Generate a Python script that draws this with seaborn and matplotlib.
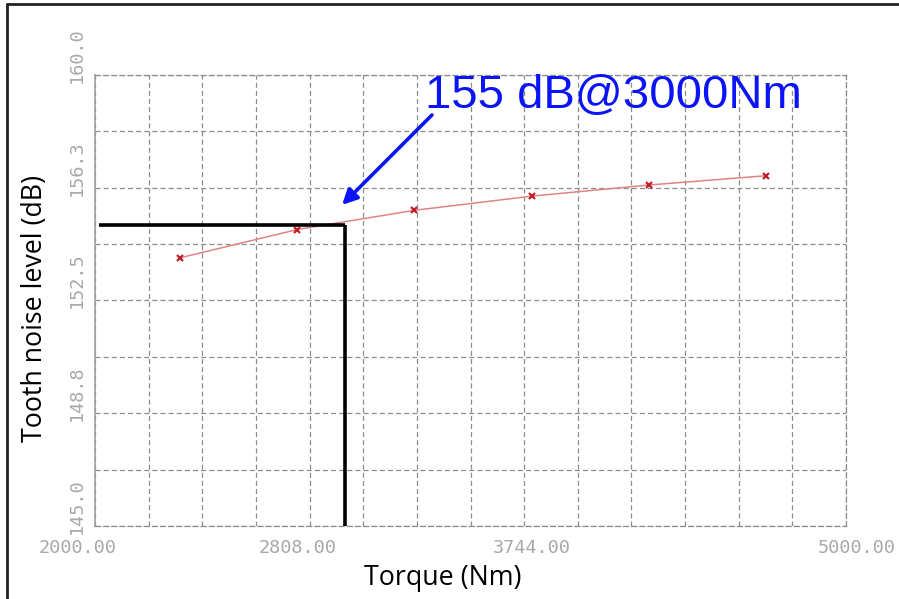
import numpy as np
import pandas as pd
import seaborn as sns
import matplotlib
matplotlib.use("Agg")
import matplotlib.pyplot as plt
from matplotlib.lines import Line2D
from matplotlib.transforms import ScaledTranslation, blended_transform_factory

# Measured tooth noise level versus input torque
torque_nm = [2340, 2808, 3276, 3744, 4212, 4680]
noise_db = [153.92, 154.86, 155.50, 155.97, 156.34, 156.65]

# Operating point highlighted on the chart
op_torque = 3000
op_level = 155
op_label = "155 dB@3000Nm"

# Axis labelling
x_tick_values = [2000, 2808, 3744, 5000]
x_tick_labels = ["2000.00", "2808.00", "3744.00", "5000.00"]
x_tick_marks = [2000, 2340, 2808, 3276, 3744, 4212, 4680, 5000]
y_tick_values = [145.0, 148.75, 152.5, 156.25, 160.0]
y_tick_labels = ["145.0", "148.8", "152.5", "156.3", "160.0"]
x_label = "Torque (Nm)"
y_label = "Tooth noise level (dB)"

sns.set_style("white")
plt.rcParams["font.family"] = ["Open Sans", "DejaVu Sans"]

fig = plt.figure(figsize=(8.99, 5.99), dpi=100)
ax = fig.add_axes([95 / 899, 1 - 526 / 599, 751 / 899, 451 / 599])

df = pd.DataFrame({"torque": torque_nm, "level": noise_db})
sns.lineplot(data=df, x="torque", y="level", ax=ax, color="#e08585", lw=1.1,
             marker="x", markersize=5, markeredgewidth=1.6,
             markeredgecolor="#c4202c", zorder=4)

ax.set_xlim(2000, 5000)
ax.set_ylim(145, 160)

# Dashed reference grid on its own (minor) divisions
grid_color = "#8c8c8c"
ax.xaxis.remove_overlapping_locs = False
ax.yaxis.remove_overlapping_locs = False
ax.set_xticks(np.linspace(2000, 5000, 15), minor=True)
ax.set_yticks(np.linspace(145, 160, 9), minor=True)
ax.grid(which="minor", color=grid_color, lw=0.9, ls=(0, (4, 2.5)))
ax.grid(which="major", visible=False)
ax.tick_params(which="minor", length=0)

ax.set_xticks(x_tick_marks)
ax.set_yticks(y_tick_values)
ax.tick_params(axis="x", which="major", length=4, width=0.9, color="#8c8c8c",
               direction="out", labelbottom=False)
ax.tick_params(axis="y", which="major", length=3, width=0.9, color="#8c8c8c",
               direction="out", labelleft=False)

for side in ["top", "right", "bottom"]:
    ax.spines[side].set_color(grid_color)
    ax.spines[side].set_linewidth(0.9)
    ax.spines[side].set_linestyle((0, (4, 2.5)))
ax.spines["left"].set_color("#a0a0a0")
ax.spines["left"].set_linewidth(1.2)

# Tick labels in a light monospaced face
mono = dict(family="DejaVu Sans Mono", color="#a8a8a8", fontsize=13.3)
xtrans = blended_transform_factory(ax.transData, ax.transAxes)
x_shift = {2000: -17, 5000: 11}
for val, lab in zip(x_tick_values, x_tick_labels):
    off = ScaledTranslation(x_shift.get(val, 0) / 100, -22 / 100, fig.dpi_scale_trans)
    ax.text(val, 0, lab, transform=xtrans + off, ha="center", va="center", **mono)

ytrans = blended_transform_factory(ax.transAxes, ax.transData)
for val, lab in zip(y_tick_values, y_tick_labels):
    off = ScaledTranslation(-18 / 100, -8 / 100, fig.dpi_scale_trans)
    ax.text(0, val, lab, transform=ytrans + off, rotation=90,
            rotation_mode="anchor", ha="left", va="center", **mono)

# Operating point guide lines
ax.plot([2015, op_torque], [op_level, op_level], color="black", lw=2.6,
        solid_capstyle="butt", zorder=5)
ax.plot([op_torque, op_torque], [op_level, 145], color="black", lw=2.6,
        solid_capstyle="butt", zorder=5, clip_on=False)

ax.annotate("", xy=(2987, 155.68), xytext=(3346, 158.67),
            arrowprops=dict(arrowstyle="-|>,head_length=0.9,head_width=0.45",
                            color="#0a14f5", lw=2.6, shrinkA=0, shrinkB=0),
            zorder=6)
ax.text(3318, 158.9, op_label, color="#0a14f5", fontsize=34,
        family="Liberation Sans", ha="left", va="baseline", zorder=6)

ax.set_xlabel(x_label, fontsize=19.3, color="black")
ax.set_ylabel(y_label, fontsize=19.3, color="black")
ax.xaxis.set_label_coords(0.463, -0.115)
ax.yaxis.set_label_coords(-0.0799, 0.4834)
ax.xaxis.label.set_va("center")
ax.yaxis.label.set_va("center")

# Outer frame of the figure
fig.add_artist(Line2D([7 / 899, 7 / 899], [0, 1 - 4 / 599], color="#222222",
                      lw=2, transform=fig.transFigure))
fig.add_artist(Line2D([7 / 899, 1], [1 - 4 / 599, 1 - 4 / 599], color="#222222",
                      lw=2, transform=fig.transFigure))

fig.savefig("out.png", dpi=100)
